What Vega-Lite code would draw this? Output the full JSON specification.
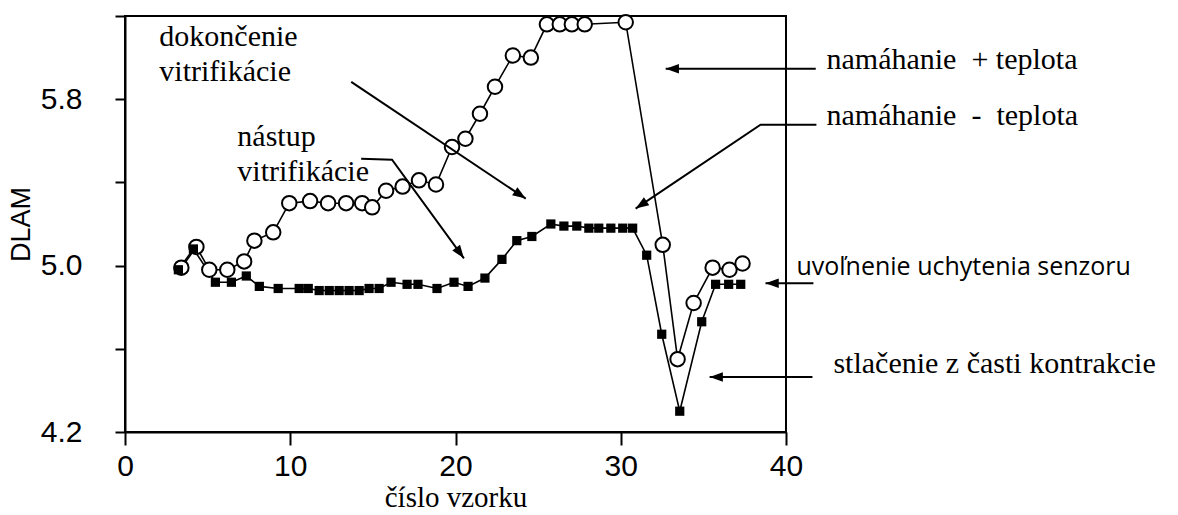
{
  "$schema": "https://vega.github.io/schema/vega-lite/v6.json",
  "width": 661,
  "height": 416,
  "autosize": {"type": "none"},
  "padding": {"left": 125, "top": 16, "right": 392, "bottom": 83},
  "background": "white",
  "config": {
    "view": {"stroke": "black", "strokeWidth": 2},
    "axis": {
      "grid": false,
      "domainColor": "black",
      "domainWidth": 2,
      "tickColor": "black",
      "tickWidth": 2,
      "labelColor": "black",
      "labelFont": "Liberation Sans",
      "labelFontSize": 30,
      "labelFontWeight": "normal",
      "labelFlush": false,
      "labelOverlap": false,
      "titleColor": "black",
      "titleFontWeight": "normal"
    }
  },
  "datasets": {
    "meranie": [
      {"n": 3.41, "dlam": 4.99, "s": "plus"},
      {"n": 4.32, "dlam": 5.09, "s": "plus"},
      {"n": 5.10, "dlam": 4.98, "s": "plus"},
      {"n": 6.19, "dlam": 4.98, "s": "plus"},
      {"n": 7.21, "dlam": 5.02, "s": "plus"},
      {"n": 7.83, "dlam": 5.12, "s": "plus"},
      {"n": 8.97, "dlam": 5.16, "s": "plus"},
      {"n": 9.94, "dlam": 5.30, "s": "plus"},
      {"n": 11.20, "dlam": 5.31, "s": "plus"},
      {"n": 12.29, "dlam": 5.30, "s": "plus"},
      {"n": 13.38, "dlam": 5.30, "s": "plus"},
      {"n": 14.35, "dlam": 5.30, "s": "plus"},
      {"n": 14.96, "dlam": 5.28, "s": "plus"},
      {"n": 15.80, "dlam": 5.36, "s": "plus"},
      {"n": 16.80, "dlam": 5.38, "s": "plus"},
      {"n": 17.79, "dlam": 5.41, "s": "plus"},
      {"n": 18.82, "dlam": 5.39, "s": "plus"},
      {"n": 19.79, "dlam": 5.57, "s": "plus"},
      {"n": 20.60, "dlam": 5.61, "s": "plus"},
      {"n": 21.48, "dlam": 5.73, "s": "plus"},
      {"n": 22.39, "dlam": 5.86, "s": "plus"},
      {"n": 23.47, "dlam": 6.01, "s": "plus"},
      {"n": 24.56, "dlam": 6.00, "s": "plus"},
      {"n": 25.53, "dlam": 6.16, "s": "plus"},
      {"n": 26.31, "dlam": 6.16, "s": "plus"},
      {"n": 27.04, "dlam": 6.16, "s": "plus"},
      {"n": 27.82, "dlam": 6.16, "s": "plus"},
      {"n": 30.30, "dlam": 6.17, "s": "plus"},
      {"n": 32.54, "dlam": 5.10, "s": "plus"},
      {"n": 33.44, "dlam": 4.55, "s": "plus"},
      {"n": 34.41, "dlam": 4.82, "s": "plus"},
      {"n": 35.56, "dlam": 4.99, "s": "plus"},
      {"n": 36.58, "dlam": 4.98, "s": "plus"},
      {"n": 37.37, "dlam": 5.01, "s": "plus"},
      {"n": 3.23, "dlam": 4.98, "s": "minus"},
      {"n": 4.14, "dlam": 5.08, "s": "minus"},
      {"n": 5.47, "dlam": 4.92, "s": "minus"},
      {"n": 6.44, "dlam": 4.92, "s": "minus"},
      {"n": 7.34, "dlam": 4.95, "s": "minus"},
      {"n": 8.13, "dlam": 4.90, "s": "minus"},
      {"n": 9.27, "dlam": 4.89, "s": "minus"},
      {"n": 10.54, "dlam": 4.89, "s": "minus"},
      {"n": 11.09, "dlam": 4.89, "s": "minus"},
      {"n": 11.75, "dlam": 4.88, "s": "minus"},
      {"n": 12.36, "dlam": 4.88, "s": "minus"},
      {"n": 12.96, "dlam": 4.88, "s": "minus"},
      {"n": 13.56, "dlam": 4.88, "s": "minus"},
      {"n": 14.17, "dlam": 4.88, "s": "minus"},
      {"n": 14.77, "dlam": 4.89, "s": "minus"},
      {"n": 15.38, "dlam": 4.89, "s": "minus"},
      {"n": 16.10, "dlam": 4.92, "s": "minus"},
      {"n": 17.07, "dlam": 4.91, "s": "minus"},
      {"n": 17.73, "dlam": 4.91, "s": "minus"},
      {"n": 18.88, "dlam": 4.89, "s": "minus"},
      {"n": 19.91, "dlam": 4.92, "s": "minus"},
      {"n": 20.76, "dlam": 4.90, "s": "minus"},
      {"n": 21.78, "dlam": 4.94, "s": "minus"},
      {"n": 22.81, "dlam": 5.03, "s": "minus"},
      {"n": 23.71, "dlam": 5.12, "s": "minus"},
      {"n": 24.62, "dlam": 5.14, "s": "minus"},
      {"n": 25.77, "dlam": 5.20, "s": "minus"},
      {"n": 26.56, "dlam": 5.19, "s": "minus"},
      {"n": 27.34, "dlam": 5.19, "s": "minus"},
      {"n": 28.07, "dlam": 5.18, "s": "minus"},
      {"n": 28.67, "dlam": 5.18, "s": "minus"},
      {"n": 29.40, "dlam": 5.18, "s": "minus"},
      {"n": 30.12, "dlam": 5.18, "s": "minus"},
      {"n": 30.72, "dlam": 5.18, "s": "minus"},
      {"n": 31.57, "dlam": 5.05, "s": "minus"},
      {"n": 32.48, "dlam": 4.67, "s": "minus"},
      {"n": 33.57, "dlam": 4.30, "s": "minus"},
      {"n": 34.90, "dlam": 4.73, "s": "minus"},
      {"n": 35.74, "dlam": 4.91, "s": "minus"},
      {"n": 36.53, "dlam": 4.91, "s": "minus"},
      {"n": 37.26, "dlam": 4.91, "s": "minus"}
    ],
    "sipky": [
      {"g": "a", "o": 0, "x": 13.69, "y": 5.883},
      {"g": "a", "o": 1, "x": 24.25, "y": 5.322},
      {"g": "b", "o": 0, "x": 14.29, "y": 5.514},
      {"g": "b", "o": 1, "x": 16.16, "y": 5.509},
      {"g": "b", "o": 2, "x": 20.51, "y": 5.035},
      {"g": "c", "o": 0, "x": 41.80, "y": 5.946},
      {"g": "c", "o": 1, "x": 32.72, "y": 5.946},
      {"g": "d", "o": 0, "x": 41.84, "y": 5.677},
      {"g": "d", "o": 1, "x": 38.46, "y": 5.677},
      {"g": "d", "o": 2, "x": 30.90, "y": 5.274},
      {"g": "e", "o": 0, "x": 41.66, "y": 4.915},
      {"g": "e", "o": 1, "x": 38.76, "y": 4.915},
      {"g": "f", "o": 0, "x": 41.60, "y": 4.464},
      {"g": "f", "o": 1, "x": 35.38, "y": 4.464}
    ],
    "hroty": [
      {"x": 24.25, "y": 5.322, "uhol": 34},
      {"x": 20.51, "y": 5.035, "uhol": 54},
      {"x": 32.72, "y": 5.946, "uhol": 180},
      {"x": 30.90, "y": 5.274, "uhol": 146},
      {"x": 38.76, "y": 4.915, "uhol": 180},
      {"x": 35.38, "y": 4.464, "uhol": 180}
    ],
    "popisy": [
      {"x": 2.08, "y": 6.056, "t": "dokončenie"},
      {"x": 2.08, "y": 5.888, "t": "vitrifikácie"},
      {"x": 6.80, "y": 5.577, "t": "nástup"},
      {"x": 6.80, "y": 5.409, "t": "vitrifikácie"},
      {"x": 42.45, "y": 5.946, "t": "namáhanie\u00a0\u00a0+ teplota"},
      {"x": 42.45, "y": 5.677, "t": "namáhanie\u00a0\u00a0-\u00a0\u00a0teplota"},
      {"x": 42.87, "y": 4.483, "t": "stlačenie z časti kontrakcie"}
    ],
    "popisySans": [
      {"x": 40.63, "y": 4.953, "t": "uvoľnenie uchytenia senzoru"}
    ]
  },
  "encoding": {
    "x": {
      "field": "n",
      "type": "quantitative",
      "scale": {"domain": [0, 40], "nice": false, "zero": false},
      "axis": {
        "values": [0, 10, 20, 30, 40],
        "tickSize": 13,
        "labelPadding": 6,
        "title": "číslo vzorku",
        "titleFont": "Liberation Serif",
        "titleFontSize": 29,
        "titlePadding": 2
      }
    },
    "y": {
      "field": "dlam",
      "type": "quantitative",
      "scale": {"domain": [4.2, 6.2], "nice": false, "zero": false},
      "axis": {
        "values": [4.2, 4.6, 5.0, 5.4, 5.8, 6.2],
        "tickSize": 10,
        "labelPadding": 33,
        "labelExpr": "(abs(datum.value - 4.2) < 0.01 || abs(datum.value - 5) < 0.01 || abs(datum.value - 5.8) < 0.01) ? format(datum.value, '.1f') : ''",
        "title": "DLAM",
        "titleFont": "Liberation Sans",
        "titleFontSize": 27,
        "titlePadding": 5
      }
    }
  },
  "layer": [
    {
      "data": {"name": "meranie"},
      "mark": {"type": "line", "color": "black", "strokeWidth": 1.6},
      "encoding": {"detail": {"field": "s"}}
    },
    {
      "data": {"name": "meranie"},
      "transform": [{"filter": "datum.s === 'plus'"}],
      "mark": {"type": "point", "shape": "circle", "size": 210, "filled": true, "fill": "white", "stroke": "black", "strokeWidth": 2, "opacity": 1}
    },
    {
      "data": {"name": "meranie"},
      "transform": [{"filter": "datum.s === 'minus'"}],
      "mark": {"type": "point", "shape": "square", "size": 85, "filled": true, "color": "black", "opacity": 1}
    },
    {
      "data": {"name": "sipky"},
      "mark": {"type": "line", "color": "black", "strokeWidth": 2},
      "encoding": {
        "x": {"field": "x", "type": "quantitative"},
        "y": {"field": "y", "type": "quantitative"},
        "detail": {"field": "g"},
        "order": {"field": "o"}
      }
    },
    {
      "data": {"name": "hroty"},
      "mark": {"type": "point", "shape": "M0,0 L-1,-0.36 L-1,0.36 Z", "size": 700, "filled": true, "color": "black", "opacity": 1},
      "encoding": {
        "x": {"field": "x", "type": "quantitative"},
        "y": {"field": "y", "type": "quantitative"},
        "angle": {"field": "uhol", "type": "quantitative", "scale": null}
      }
    },
    {
      "data": {"name": "popisy"},
      "mark": {"type": "text", "align": "left", "baseline": "alphabetic", "font": "Liberation Serif", "fontSize": 30, "color": "black"},
      "encoding": {
        "x": {"field": "x", "type": "quantitative"},
        "y": {"field": "y", "type": "quantitative"},
        "text": {"field": "t"}
      }
    },
    {
      "data": {"name": "popisySans"},
      "mark": {"type": "text", "align": "left", "baseline": "alphabetic", "font": "Open Sans", "fontSize": 25, "color": "black"},
      "encoding": {
        "x": {"field": "x", "type": "quantitative"},
        "y": {"field": "y", "type": "quantitative"},
        "text": {"field": "t"}
      }
    }
  ]
}
